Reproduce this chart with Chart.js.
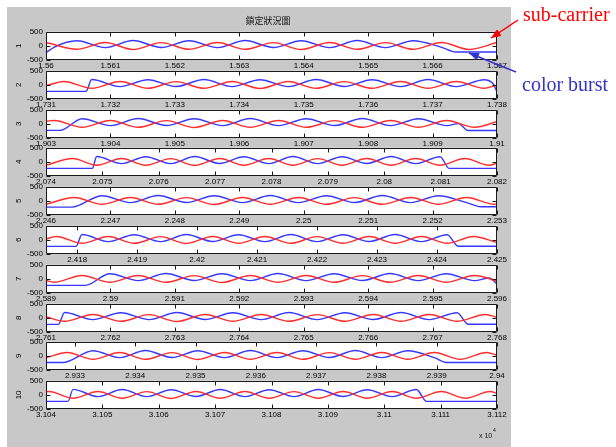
<!DOCTYPE html>
<html>
<head>
<meta charset="utf-8">
<title>鎖定狀況圖</title>
<script src="https://cdn.jsdelivr.net/npm/chart.js@4.4.0/dist/chart.umd.min.js"></script>
<style>
    html, body { margin: 0; padding: 0; background: #ffffff; }
    #page { position: relative; width: 616px; height: 447px; overflow: hidden; }
    #figure { position: absolute; left: 7px; top: 7px; width: 504px; height: 440px; background: #c8c8c8; }
    canvas.row { position: absolute; left: 7px; }
    #overlay { position: absolute; left: 0; top: 0; pointer-events: none; }
</style>
</head>
<body>
<div id="page">
    <div id="figure"></div>
    <div id="rows"></div>
    <svg id="overlay" width="616" height="447" xmlns="http://www.w3.org/2000/svg">
        <defs>
            <marker id="headRed" markerWidth="10" markerHeight="8" refX="10" refY="4" orient="auto" markerUnits="userSpaceOnUse">
                <path d="M0,0 L10,4 L0,8 z" fill="#ff0000"/>
            </marker>
            <marker id="headBlue" markerWidth="10" markerHeight="8" refX="10" refY="4" orient="auto" markerUnits="userSpaceOnUse">
                <path d="M0,0 L10,4 L0,8 z" fill="#3333cc"/>
            </marker>
        </defs>
        <text x="268" y="24" text-anchor="middle" font-family="'Noto Sans CJK TC', 'Noto Sans CJK SC', sans-serif" font-size="9" fill="#111">鎖定狀況圖</text>
        <text x="479" y="438" font-family="'Liberation Sans', Arial, sans-serif" font-size="7" fill="#111">x 10</text>
        <text x="493" y="432" font-family="'Liberation Sans', Arial, sans-serif" font-size="5" fill="#111">4</text>
        <line x1="518" y1="20" x2="491" y2="38" stroke="#ff0000" stroke-width="1.5" marker-end="url(#headRed)"/>
        <text x="523" y="21" fill="#ff0000" font-family="'Liberation Serif', 'Times New Roman', serif" font-size="20">sub-carrier</text>
        <line x1="516" y1="72" x2="469" y2="53" stroke="#3333cc" stroke-width="1.5" marker-end="url(#headBlue)"/>
        <text x="522" y="91" fill="#3333cc" font-family="'Liberation Serif', 'Times New Roman', serif" font-size="20">color burst</text>
    </svg>
</div>
<script>
// Étiquettes des lignes et bornes de l'axe x (échantillons, affichés x 10^4)
const rowNames = ['1', '2', '3', '4', '5', '6', '7', '8', '9', '10'];
const xMin = [15600, 17310, 19030, 20740, 22460, 24174.8, 25890, 27610, 29325.2, 31040];
const xMax = [15670, 17380, 19100, 20820, 22530, 24250, 25960, 27680, 29400, 31120];
const xStep = 10;
const yMin = -500, yMax = 500, yStep = 500;

// Sous-porteuse (rouge) et salve couleur (bleu), points [x, y]
const red1 = [[15600,120],[15604.8,-120],[15609.2,120],[15613.5,-125],[15617.9,115],[15622.2,-120],[15626.6,120],[15630.9,-120],[15635.3,115],[15639.6,-125],[15644,120],[15648.3,-120],[15652.7,115],[15657,-120],[15661.4,120],[15665.7,-125],[15670,120]];
const blue1 = [[15600,-240],[15601.3,-40],[15604.8,185],[15609.2,-60],[15613.5,190],[15617.9,-55],[15622.2,185],[15626.6,-60],[15630.9,190],[15635.3,-55],[15639.6,185],[15644,-60],[15648.3,190],[15652.7,-60],[15657,185],[15661.4,-50],[15663.6,-215],[15670,-215]];

const red2 = [[17310,-30],[17312.8,120],[17317.1,-120],[17321.5,120],[17325.8,-120],[17330.2,115],[17334.5,-120],[17338.9,120],[17343.2,-125],[17347.6,120],[17351.9,-120],[17356.3,115],[17360.6,-120],[17365,120],[17369.3,-120],[17373.7,120],[17378,-120],[17380,-10]];
const blue2 = [[17310,-230],[17316.2,-230],[17317.1,190],[17321.5,-60],[17325.8,185],[17330.2,-55],[17334.5,190],[17338.9,-60],[17343.2,185],[17347.6,-60],[17351.9,190],[17356.3,-55],[17360.6,185],[17365,-60],[17369.3,190],[17373.7,-60],[17378,185],[17379.4,40],[17380,-250]];

const red3 = [[19030,100],[19031.3,120],[19035.6,-120],[19040,120],[19044.3,-120],[19048.7,115],[19053,-125],[19057.4,120],[19061.7,-120],[19066.1,120],[19070.4,-120],[19074.8,115],[19079.1,-120],[19083.5,120],[19087.8,-120],[19092.2,120],[19096.5,-120],[19100,75]];
const blue3 = [[19030,-230],[19032.2,-230],[19035.6,185],[19040,-60],[19044.3,190],[19048.7,-55],[19053,185],[19057.4,-60],[19061.7,190],[19066.1,-60],[19070.4,185],[19074.8,-55],[19079.1,190],[19083.5,-60],[19087.8,185],[19092.2,-60],[19094,10],[19095.5,-235],[19100,-235]];

const red4 = [[20740,-120],[20744.7,120],[20749,-120],[20753.4,120],[20757.7,-120],[20762.1,115],[20766.4,-125],[20770.8,120],[20775.1,-120],[20779.5,120],[20783.8,-120],[20788.2,115],[20792.5,-120],[20796.9,120],[20801.2,-120],[20805.6,120],[20809.9,-120],[20814.3,120],[20818.6,-120],[20820,-45]];
const blue4 = [[20740,-230],[20748.2,-230],[20749,190],[20753.4,-60],[20757.7,185],[20762.1,-60],[20766.4,190],[20770.8,-55],[20775.1,185],[20779.5,-60],[20783.8,190],[20788.2,-60],[20792.5,185],[20796.9,-55],[20801.2,190],[20805.6,-60],[20809.9,185],[20811.5,-230],[20820,-230]];

const red5 = [[22460,-120],[22464.4,120],[22468.7,-120],[22473.1,120],[22477.4,-120],[22481.8,115],[22486.1,-125],[22490.5,120],[22494.8,-120],[22499.2,120],[22503.5,-120],[22507.9,115],[22512.2,-120],[22516.6,120],[22520.9,-120],[22525.3,120],[22529.6,-120],[22530,-110]];
const blue5 = [[22460,-220],[22464,-220],[22468.7,185],[22473.1,-60],[22477.4,190],[22481.8,-55],[22486.1,185],[22490.5,-60],[22494.8,190],[22499.2,-60],[22503.5,185],[22507.9,-55],[22512.2,190],[22516.6,-60],[22520.9,185],[22525.3,-60],[22527.5,-210],[22530,-210]];

const red6 = [[24174.8,30],[24176.5,120],[24180.8,-120],[24185.2,120],[24189.5,-120],[24193.9,115],[24198.2,-125],[24202.6,120],[24206.9,-120],[24211.3,120],[24215.6,-120],[24220,115],[24224.3,-120],[24228.7,120],[24233,-120],[24237.4,120],[24241.7,-120],[24246.1,120],[24250,-95]];
const blue6 = [[24174.8,-230],[24179.8,-230],[24180.8,190],[24185.2,-60],[24189.5,185],[24193.9,-60],[24198.2,190],[24202.6,-55],[24206.9,185],[24211.3,-60],[24215.6,190],[24220,-60],[24224.3,185],[24228.7,-55],[24233,190],[24237.4,-60],[24241.7,185],[24243.5,-225],[24250,-225]];

const red7 = [[25890,-55],[25891.2,-120],[25895.6,120],[25899.9,-120],[25904.3,120],[25908.6,-120],[25913,115],[25917.3,-125],[25921.7,120],[25926,-120],[25930.4,120],[25934.7,-120],[25939.1,115],[25943.4,-120],[25947.8,120],[25952.1,-120],[25956.5,120],[25960,-75]];
const blue7 = [[25890,-230],[25896.1,-230],[25899.9,185],[25904.3,-60],[25908.6,190],[25913,-55],[25917.3,185],[25921.7,-60],[25926,190],[25930.4,-60],[25934.7,185],[25939.1,-55],[25943.4,190],[25947.8,-60],[25952.1,185],[25956.5,-60],[25958.8,30],[25960,-180]];

const red8 = [[27610,40],[27612.9,-120],[27617.3,120],[27621.6,-120],[27626,115],[27630.3,-125],[27634.7,120],[27639,-120],[27643.4,120],[27647.7,-120],[27652.1,115],[27656.4,-120],[27660.8,120],[27665.1,-120],[27669.5,120],[27673.8,-120],[27678.2,120],[27680,20]];
const blue8 = [[27610,-230],[27611.9,-230],[27612.9,190],[27617.3,-60],[27621.6,185],[27626,-60],[27630.3,190],[27634.7,-55],[27639,185],[27643.4,-60],[27647.7,190],[27652.1,-60],[27656.4,185],[27660.8,-55],[27665.1,190],[27669.5,-60],[27673.8,185],[27675.5,-225],[27680,-225]];

const red9 = [[29325.2,-70],[29328.7,120],[29333,-120],[29337.4,120],[29341.7,-120],[29346.1,115],[29350.4,-125],[29354.8,120],[29359.1,-120],[29363.5,120],[29367.8,-120],[29372.2,115],[29376.5,-120],[29380.9,120],[29385.2,-120],[29389.6,120],[29393.9,-120],[29398.3,120],[29400,25]];
const blue9 = [[29325.2,-235],[29328,-235],[29333,185],[29337.4,-60],[29341.7,190],[29346.1,-55],[29350.4,185],[29354.8,-60],[29359.1,190],[29363.5,-60],[29367.8,185],[29372.2,-55],[29376.5,190],[29380.9,-60],[29385.2,185],[29389.6,-60],[29391.7,-235],[29400,-235]];

const red10 = [[31040,110],[31040.5,120],[31044.8,-120],[31049.2,120],[31053.5,-120],[31057.9,115],[31062.2,-125],[31066.6,120],[31070.9,-120],[31075.3,120],[31079.6,-120],[31084,115],[31088.3,-120],[31092.7,120],[31097,-120],[31101.4,120],[31105.7,-120],[31110.1,120],[31114.4,-120],[31118.8,120],[31120,50]];
const blue10 = [[31040,-230],[31043.9,-230],[31044.8,195],[31049.2,-60],[31053.5,190],[31057.9,-60],[31062.2,185],[31066.6,-55],[31070.9,190],[31075.3,-60],[31079.6,185],[31084,-60],[31088.3,190],[31092.7,-55],[31097,185],[31101.4,-60],[31105.7,190],[31107.5,-230],[31120,-230]];

const redRows = [red1, red2, red3, red4, red5, red6, red7, red8, red9, red10];
const blueRows = [blue1, blue2, blue3, blue4, blue5, blue6, blue7, blue8, blue9, blue10];

// Couleurs
const colors = {
    red: 'rgb(255, 45, 45)',
    blue: 'rgb(55, 55, 255)',
    frame: '#1a1a1a',
    plot: '#ffffff'
};

// Options globales
Chart.defaults.font.family = "'Liberation Sans', Arial, sans-serif";
Chart.defaults.font.size = 8;
Chart.defaults.color = '#000';
Chart.defaults.animation = false;

// Cadre des axes façon MATLAB : fond blanc, bordure et graduations vers l'intérieur
const axisFrame = {
    id: 'axisFrame',
    beforeDraw(chart) {
        const { ctx, chartArea: a } = chart;
        ctx.save();
        ctx.fillStyle = colors.plot;
        ctx.fillRect(a.left, a.top, a.right - a.left, a.bottom - a.top);
        ctx.restore();
    },
    afterDraw(chart) {
        const { ctx, chartArea: a, scales } = chart;
        const L = Math.round(a.left) + 0.5, R = Math.round(a.right) - 0.5;
        const T = Math.round(a.top) + 0.5, B = Math.round(a.bottom) - 0.5;
        ctx.save();
        ctx.strokeStyle = colors.frame;
        ctx.lineWidth = 1;
        ctx.beginPath();
        ctx.rect(L, T, R - L, B - T);
        scales.x.ticks.forEach(t => {
            const px = Math.round(scales.x.getPixelForValue(t.value)) + 0.5;
            ctx.moveTo(px, T); ctx.lineTo(px, T + 4);
            ctx.moveTo(px, B); ctx.lineTo(px, B - 4);
        });
        scales.y.ticks.forEach(t => {
            const py = Math.round(scales.y.getPixelForValue(t.value)) + 0.5;
            ctx.moveTo(L, py); ctx.lineTo(L + 4, py);
            ctx.moveTo(R, py); ctx.lineTo(R - 4, py);
        });
        ctx.stroke();
        ctx.restore();
    }
};

// Une petite figure par ligne, empilées
const rowsEl = document.getElementById('rows');
rowNames.forEach((name, i) => {
    const boxTop = Math.round(31 + 38.8 * i);
    const canvas = document.createElement('canvas');
    canvas.className = 'row';
    canvas.width = 504;
    canvas.height = 51;
    canvas.style.top = (boxTop - 7) + 'px';
    rowsEl.appendChild(canvas);

    new Chart(canvas, {
        type: 'line',
        data: {
            datasets: [
                {
                    label: 'sub-carrier',
                    data: redRows[i],
                    borderColor: colors.red,
                    borderWidth: 1.4,
                    pointRadius: 0,
                    cubicInterpolationMode: 'monotone'
                },
                {
                    label: 'color burst',
                    data: blueRows[i],
                    borderColor: colors.blue,
                    borderWidth: 1.4,
                    pointRadius: 0,
                    cubicInterpolationMode: 'monotone'
                }
            ]
        },
        options: {
            responsive: false,
            animation: false,
            layout: { padding: { top: 7, right: 14, left: 0, bottom: 0 } },
            plugins: {
                legend: { display: false },
                tooltip: { enabled: false }
            },
            scales: {
                x: {
                    type: 'linear',
                    min: xMin[i],
                    max: xMax[i],
                    grid: { display: false, drawTicks: false },
                    border: { display: false },
                    ticks: {
                        stepSize: xStep,
                        includeBounds: false,
                        autoSkip: false,
                        maxRotation: 0,
                        padding: 1,
                        callback: v => String(Math.round(v) / 1e4)
                    },
                    afterFit: s => { s.height = 15; }
                },
                y: {
                    min: yMin,
                    max: yMax,
                    grid: { display: false, drawTicks: false },
                    border: { display: false },
                    ticks: { stepSize: yStep, padding: 3 },
                    title: { display: true, text: name, padding: { top: 7, bottom: 0 } },
                    afterFit: s => { s.width = 39; }
                }
            }
        },
        plugins: [axisFrame]
    });
});
</script>
</body>
</html>
